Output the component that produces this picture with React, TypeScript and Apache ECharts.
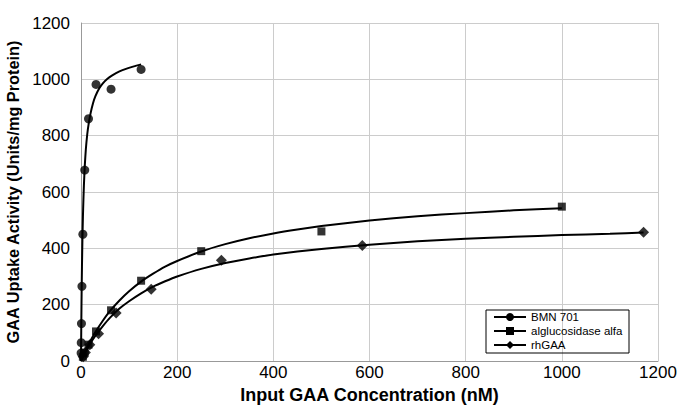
import React, { useEffect, useRef } from "react";
import * as echarts from "echarts";

// Measured points
const bmnX = [0.24, 0.49, 0.98, 1.95, 3.9, 7.8, 15.6, 31.25, 62.5, 125];
const bmnY = [28, 65, 133, 265, 450, 678, 860, 982, 965, 1035];
const algX = [3.9, 7.8, 15.6, 31.25, 62.5, 125, 250, 500, 1000];
const algY = [15, 30, 58, 105, 180, 285, 390, 460, 548];
const rhX = [4.6, 9.1, 18.3, 36.5, 73, 146, 292, 585, 1170];
const rhY = [15, 30, 58, 97, 170, 255, 358, 410, 457];

// Fitted curves
const bmnCurveX = [0, 0.5, 1, 1.5, 2, 3, 4, 5, 6, 8, 10, 13, 16, 20, 25, 30, 38, 45, 55, 65, 80, 95, 110, 125];
const bmnCurveY = [0, 108, 198, 272, 335, 436, 512, 572, 622, 697, 750, 805, 843, 880, 915, 940, 968, 985, 1002, 1014, 1028, 1038, 1046, 1053];
const algCurveX = [0, 10, 20, 30, 45, 60, 80, 100, 125, 150, 175, 200, 250, 300, 350, 400, 450, 500, 600, 700, 800, 900, 1000];
const algCurveY = [0, 39, 73, 103, 142, 177, 215, 248, 282, 310, 335, 355, 389, 415, 436, 453, 467, 479, 499, 514, 525, 535, 542];
const rhCurveX = [0, 10, 20, 30, 45, 60, 80, 100, 125, 150, 175, 200, 250, 300, 350, 400, 500, 600, 700, 800, 900, 1000, 1100, 1170];
const rhCurveY = [0, 34, 64, 90, 123, 153, 186, 212, 240, 264, 283, 300, 327, 348, 364, 378, 398, 413, 425, 434, 441, 447, 452, 456];

const xTicks = [0, 200, 400, 600, 800, 1000, 1200];
const yTicks = [0, 200, 400, 600, 800, 1000, 1200];

const names = ["BMN 701", "alglucosidase alfa", "rhGAA"];
const symbols = ["circle", "rect", "diamond"];
const symbolSizes = [9, 8, 11];

const zip = (xs: number[], ys: number[]) => xs.map((x, i) => [x, ys[i]]);

export default function App() {
  const ref = useRef<HTMLDivElement>(null);
  useEffect(() => {
    if (!ref.current) return;
    const chart = echarts.init(ref.current, undefined, { renderer: "svg" });
    const font = "'Liberation Sans', Arial, Helvetica, sans-serif";
    const curves = [zip(bmnCurveX, bmnCurveY), zip(algCurveX, algCurveY), zip(rhCurveX, rhCurveY)];
    const pts = [zip(bmnX, bmnY), zip(algX, algY), zip(rhX, rhY)];
    const series: any[] = [];
    names.forEach((n, i) => {
      series.push({
        name: n,
        type: "line",
        data: curves[i],
        smooth: 0.2,
        showSymbol: false,
        symbol: symbols[i],
        symbolSize: symbolSizes[i],
        lineStyle: { color: "#000", width: 2 },
        itemStyle: { color: "#000" },
        z: 2,
      });
    });
    names.forEach((n, i) => {
      series.push({
        name: n + " data",
        type: "scatter",
        data: pts[i],
        symbol: symbols[i],
        symbolSize: symbolSizes[i],
        itemStyle: { color: "#000" },
        z: 3,
      });
    });
    chart.setOption({
      animation: false,
      backgroundColor: "#fff",
      grid: { left: 81, right: 21, top: 23, bottom: 44, containLabel: false, outerBoundsMode: "none" },
      xAxis: {
        type: "value",
        min: xTicks[0],
        max: xTicks[xTicks.length - 1],
        interval: 200,
        name: "Input GAA Concentration (nM)",
        nameLocation: "middle",
        nameGap: 24,
        nameTextStyle: { fontFamily: font, fontSize: 18, fontWeight: "bold", color: "#000" },
        axisLine: { show: true, lineStyle: { color: "#999", width: 1 } },
        axisTick: { show: false },
        axisLabel: { fontFamily: font, fontSize: 17, color: "#000", margin: 3, formatter: (v: number) => String(v) },
        splitLine: { show: true, lineStyle: { color: "#ccc", width: 1 } },
      },
      yAxis: {
        type: "value",
        min: yTicks[0],
        max: yTicks[yTicks.length - 1],
        interval: 200,
        name: "GAA Uptake Activity (Units/mg Protein)",
        nameLocation: "middle",
        nameGap: 52,
        nameTextStyle: { fontFamily: font, fontSize: 16.3, fontWeight: "bold", color: "#000" },
        axisLine: { show: true, lineStyle: { color: "#999", width: 1 } },
        axisTick: { show: false },
        axisLabel: { fontFamily: font, fontSize: 17, color: "#000", margin: 11, formatter: (v: number) => String(v) },
        splitLine: { show: true, lineStyle: { color: "#ccc", width: 1 } },
      },
      legend: {
        data: names,
        orient: "vertical",
        left: 493,
        top: 311,
        padding: 0,
        itemWidth: 32,
        itemHeight: 10,
        itemGap: 2,
        textStyle: { fontFamily: font, fontSize: 11.5, color: "#000" },
      },
      graphic: [
        {
          type: "rect",
          shape: { x: 486, y: 310, width: 143, height: 43 },
          style: { fill: "none", stroke: "#000", lineWidth: 1 },
          z: 10,
        },
      ],
      series,
    });
    return () => chart.dispose();
  }, []);
  return <div ref={ref} style={{ width: 679, height: 405, position: "absolute", left: 0, top: 0 }} />;
}
